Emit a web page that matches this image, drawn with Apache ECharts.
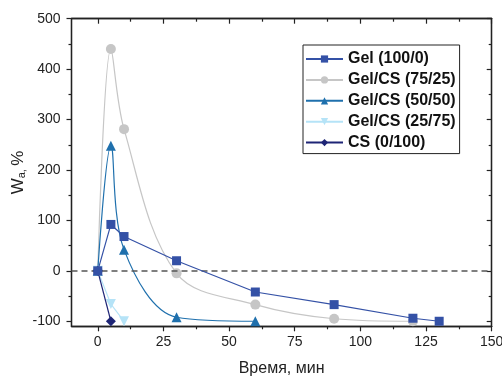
<!DOCTYPE html>
<html><head><meta charset="utf-8">
<script src="https://cdn.jsdelivr.net/npm/echarts@6/dist/echarts.min.js"></script>
<style>html,body{margin:0;padding:0;background:#fff}#c{width:502px;height:376px}</style>
</head><body><div id="c"></div>
<script>
const seriesNames = ['Gel (100/0)', 'Gel/CS (75/25)', 'Gel/CS (50/50)', 'Gel/CS (25/75)', 'CS (0/100)'];
const gel100 = [[0,0],[5,92],[10,68],[30,20],[60,-42],[90,-67],[120,-94],[130,-100]];
const gel75 = [[0,0],[5,440],[10,281],[30,-5],[60,-67],[90,-95],[120,-100]];
const gel50 = [[0,0],[5,248],[10,42],[30,-92],[60,-100]];
const gel25 = [[0,0],[5,-66],[10,-100]];
const cs100 = [[0,0],[5,-100]];
const xMajor = [0,25,50,75,100,125,150];
const xMinor = [12.5,37.5,62.5,87.5,112.5,137.5];
const yMajor = [-100,0,100,200,300,400,500];
const yMinor = [-50,50,150,250,350,450];
const xLabel = 'Время, мин';

const font = 'Liberation Sans, Arial, sans-serif';
const axisLine = {show:true, onZero:false, lineStyle:{color:'#222', width:1.3}};
function xAx(pos, values, len, inside, labels, name) {
  return {type:'value', min:-10, max:150, position:pos, axisLine,
    splitLine:{show:false},
    axisTick:{show:true, customValues:values, length:len, inside, lineStyle:{color:'#222', width:1.2}},
    axisLabel:{show:labels, customValues:xMajor, color:'#222', fontSize:14, fontFamily:font, margin:9},
    name: name || '', nameLocation:'middle', nameGap:34, nameMoveOverlap:false,
    nameTextStyle:{fontSize:16, color:'#222', fontFamily:font}};
}
function yAx(pos, values, len, inside, labels, withName) {
  return {type:'value', min:-110, max:500, position:pos, axisLine,
    splitLine:{show:false},
    axisTick:{show:true, customValues:values, length:len, inside, lineStyle:{color:'#222', width:1.2}},
    axisLabel:{show:labels, customValues:yMajor, color:'#222', fontSize:14, fontFamily:font, margin:11},
    name: withName ? '{w|W}{s|a,} {p|%}' : '', nameLocation:'middle', nameGap:44, nameRotate:90,
    nameMoveOverlap:false,
    nameTextStyle:{fontFamily:font, color:'#222', rich:{
      w:{fontSize:17, fontFamily:font, color:'#222'},
      s:{fontSize:11, fontFamily:font, color:'#222', verticalAlign:'bottom', padding:[8,0,0,0]},
      p:{fontSize:17, fontFamily:font, color:'#222'}}}};
}
const xAxes = [
  xAx('bottom', xMajor, 5, false, true, xLabel),
  xAx('bottom', xMinor, 3, false, false),
  xAx('top', xMajor, 5, true, false),
  xAx('top', xMinor, 3, true, false)
];
const yAxes = [
  yAx('left', yMajor, 5, false, true, true),
  yAx('left', yMinor, 3, false, false, false),
  yAx('right', yMajor, 5, true, false, false),
  yAx('right', yMinor, 3, true, false, false)
];
function ser(name, data, color, symbol, size, smooth, z) {
  return {name, type:'line', data, xAxisIndex:0, yAxisIndex:0, smooth: smooth,
    symbol, symbolSize:size, showSymbol:true, z,
    lineStyle:{color, width:1.2}, itemStyle:{color}, emphasis:{disabled:true}};
}
const series = [
  ser(seriesNames[0], gel100, '#3451a6', 'rect', 9, false, 6),
  ser(seriesNames[1], gel75, '#c6c6c6', 'circle', 10, 0.35, 2),
  ser(seriesNames[2], gel50, '#1f70ad', 'triangle', 10, 0.35, 3),
  ser(seriesNames[3], gel25, '#b5e3f7', 'path://M0,0 L10,0 L5,9 Z', 10, false, 4),
  ser(seriesNames[4], cs100, '#1e2576', 'diamond', 10, false, 5)
];
series[0].markLine = {silent:true, symbol:'none', label:{show:false},
  lineStyle:{color:'#555', type:[6,4], width:1.5}, data:[{yAxis:0}]};
const chart = echarts.init(document.getElementById('c'), null, {renderer:'canvas'});
chart.setOption({
  animation:false,
  backgroundColor:'#fff',
  grid:{left:71.5, right:10.3, top:18.7, bottom:49.7, containLabel:false, outerBoundsMode:'none'},
  xAxis:xAxes, yAxis:yAxes,
  legend:{orient:'vertical', left:303, top:45, itemWidth:37, itemHeight:9, itemGap:4.9,
    borderColor:'#222', borderWidth:1, padding:[6,4,3,2], backgroundColor:'#fff',
    textStyle:{fontFamily:font, fontSize:16, lineHeight:16, fontWeight:'bold', color:'#111'},
    data:seriesNames},
  series
});
</script></body></html>
